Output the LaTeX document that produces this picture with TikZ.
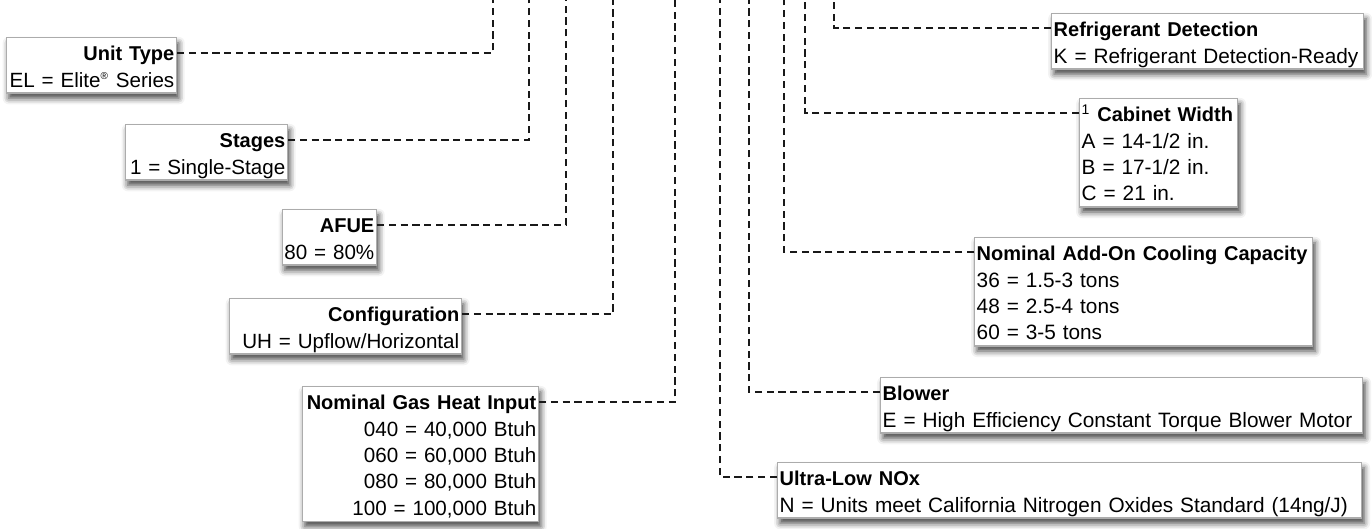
\documentclass[tikz,border=0pt]{standalone}
\usepackage{fontspec}
\setmainfont{Liberation Sans}
\usetikzlibrary{shadows.blur}

\tikzset{
  keybox/.style={draw=gray!65, line width=0.7pt, fill=white, inner xsep=1pt, inner ysep=0pt,
    text height=11.5pt, text depth=#1, font=\fontsize{10.3}{13.2}\selectfont,
    execute at begin node={\exhyphenpenalty=10000},
    blur shadow={shadow xshift=1.2pt, shadow yshift=-2.6pt, shadow blur radius=3pt, shadow opacity=75}},
  lkey/.style={keybox=#1, anchor=north east, align=right},
  rkey/.style={keybox=#1, anchor=north west, align=left, font=\fontsize{10.4}{13.2}\selectfont},
  lead/.style={draw=black!90, line width=1.3pt, dash pattern=on 3.6pt off 2.3pt}
}
\newcommand{\hd}[1]{{\fontsize{10}{13.2}\selectfont\bfseries #1}}

\begin{document}
\begin{tikzpicture}[x=0.5pt, y=-0.5pt]
	\useasboundingbox (0,0) rectangle (1372,529);
	% left column
	\node[lkey=16.2pt, text width=83pt] (unit) at (177,37) {\hd{Unit Type}\\EL = Elite\textsuperscript{\tiny\textregistered} Series};
	\node[lkey=16.2pt, text width=79pt] (stages) at (288,124) {\hd{Stages}\\1 = Single-Stage};
	\node[lkey=16.2pt, text width=45pt] (afue) at (377,209) {\hd{AFUE}\\80 = 80\%};
	\node[lkey=16.2pt, text width=114pt] (config) at (462,298) {\hd{Configuration}\\UH = Upflow/Horizontal};
	\node[lkey=55.8pt, text width=116pt] (gas) at (539,386) {\hd{Nominal Gas Heat Input}\\040 = 40,000 Btuh\\060 = 60,000 Btuh\\080 = 80,000 Btuh\\100 = 100,000 Btuh};
	% right column
	\node[rkey=16.2pt, text width=154pt] (refrig) at (1051,13) {\hd{Refrigerant Detection}\\K = Refrigerant Detection-Ready};
	\node[rkey=42.6pt, text width=77pt] (cabinet) at (1079,98) {\hd{\textsuperscript{\mdseries 1} Cabinet Width}\\A = 14-1/2 in.\\B = 17-1/2 in.\\C = 21 in.};
	\node[rkey=42.6pt, text width=167pt] (cooling) at (974,237) {\hd{Nominal Add-On Cooling Capacity}\\36 = 1.5-3 tons\\48 = 2.5-4 tons\\60 = 3-5 tons};
	\node[rkey=16.2pt, text width=239pt] (blower) at (880,377) {\hd{Blower}\\E = High Efficiency Constant Torque Blower Motor};
	\node[rkey=16.2pt, text width=290pt] (nox) at (777,462) {\hd{Ultra-Low NOx}\\N = Units meet California Nitrogen Oxides Standard (14ng/J)};

	\foreach \n/\x in {unit/493,stages/529,afue/566,config/613,gas/675,nox/720,blower/749,cooling/784,cabinet/805,refrig/834}
		\coordinate (\n-top) at (\x,0);
	\foreach \n in {unit,stages,afue,config,gas}
		\draw[lead] ([yshift=-8pt]\n.north east) -| (\n-top);
	\foreach \n in {nox,blower,cooling,cabinet,refrig}
		\draw[lead] ([yshift=-7.5pt]\n.north west) -| (\n-top);
\end{tikzpicture}
\end{document}
